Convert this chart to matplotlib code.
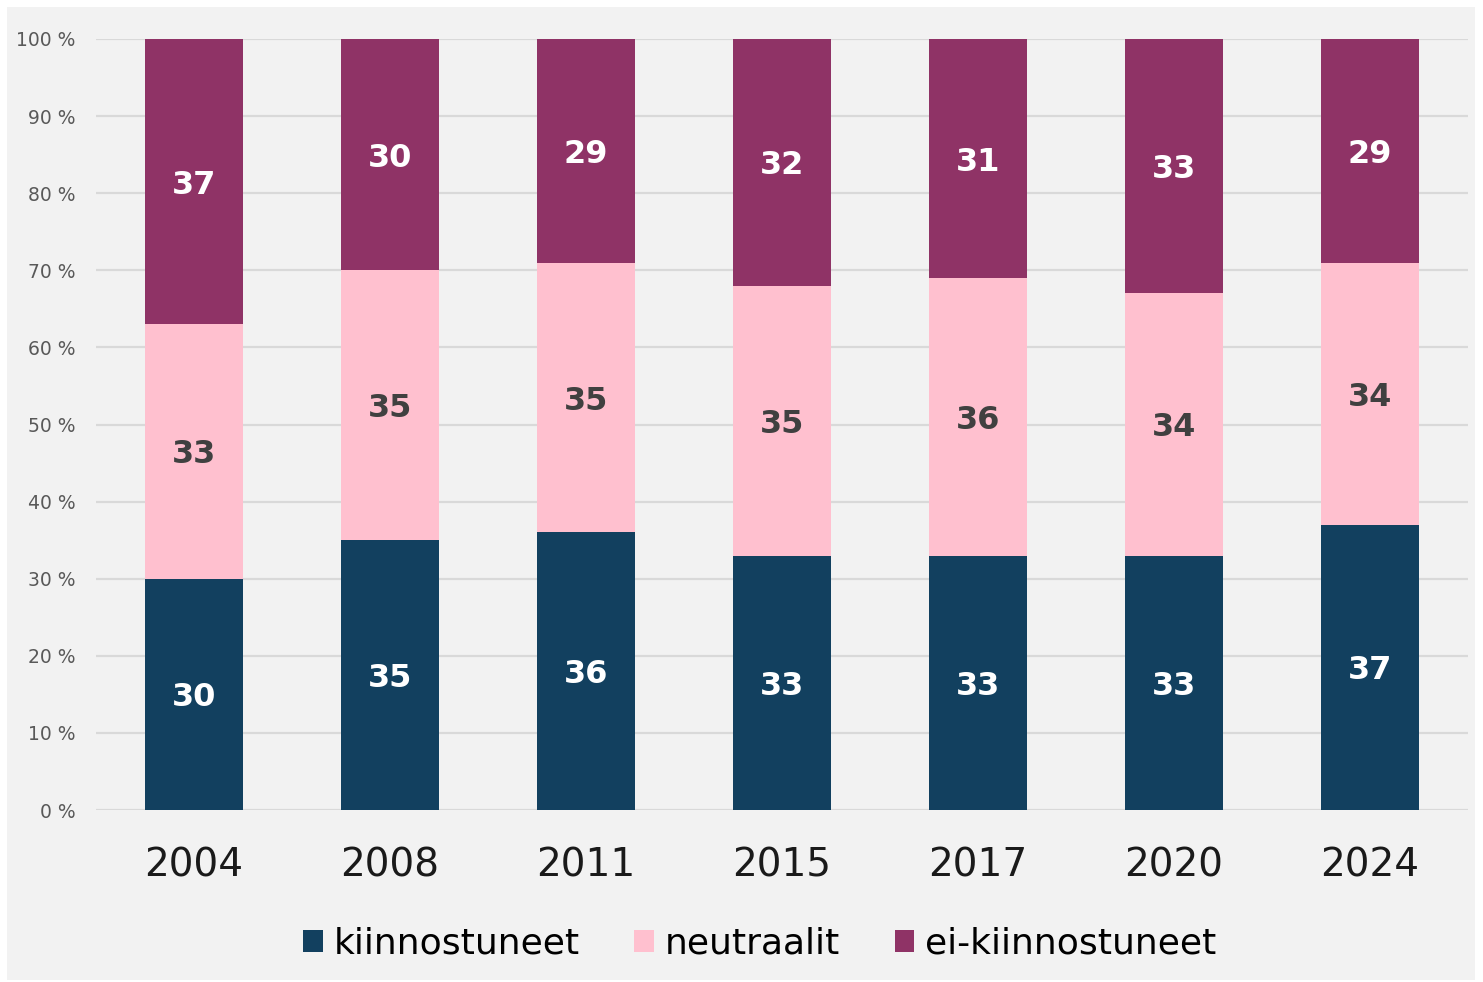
import matplotlib
matplotlib.use("Agg")
import matplotlib.pyplot as plt
from matplotlib.patches import Rectangle
import numpy as np

years = ["2004", "2008", "2011", "2015", "2017", "2020", "2024"]
kiinnostuneet = [30, 35, 36, 33, 33, 33, 37]
neutraalit = [33, 35, 35, 35, 36, 34, 34]
ei_kiinnostuneet = [37, 30, 29, 32, 31, 33, 29]
series_names = ["kiinnostuneet", "neutraalit", "ei-kiinnostuneet"]

colors = ["#12405F", "#FFC0CF", "#8F3366"]
label_colors = ["white", "#404040", "white"]

W, H = 1483, 982
fig = plt.figure(figsize=(W / 100, H / 100), dpi=100, facecolor="white")
bg = Rectangle((7 / W, 2 / H), 1468 / W, 973 / H,
               transform=fig.transFigure, facecolor="#F2F2F2",
               edgecolor="none", zorder=-10)
fig.add_artist(bg)

ax = fig.add_axes([96 / W, 172 / H, 1372 / W, 771 / H])
ax.set_facecolor("none")
ax.set_zorder(2)

x = np.arange(len(years))
data = [kiinnostuneet, neutraalit, ei_kiinnostuneet]
bottom = np.zeros(len(years))
handles = []
for vals, c, lc, name in zip(data, colors, label_colors, series_names):
    vals = np.array(vals, dtype=float)
    b = ax.bar(x, vals, 0.5, bottom=bottom, color=c, label=name, zorder=3)
    handles.append(b)
    for xi, v, bt in zip(x, vals, bottom):
        ax.text(xi, bt + v / 2, f"{int(v)}", ha="center", va="center_baseline",
                color=lc, fontsize=23, fontweight="bold", zorder=4)
    bottom += vals

ax.set_xlim(-0.5, 6.5)
ax.set_ylim(0, 100)
ax.set_yticks(np.arange(0, 101, 10))
ax.set_yticklabels([f"{v} %" for v in range(0, 101, 10)])
ax.set_xticks(x)
ax.set_xticklabels(years)
ax.grid(axis="y", color="#D9D9D9", linewidth=1.6, zorder=1)
ax.set_axisbelow(True)
for s in ax.spines.values():
    s.set_visible(False)
ax.tick_params(axis="y", length=0, pad=15, labelsize=13.5, labelcolor="#595959")
ax.tick_params(axis="x", length=0, pad=26, labelsize=28, labelcolor="#1a1a1a")

leg = fig.legend(handles=handles, labels=series_names, loc="center",
                 bbox_to_anchor=(760 / W, 38 / H), ncol=3, frameon=False,
                 fontsize=26, handlelength=0.55, handleheight=0.55,
                 handletextpad=0.3, columnspacing=1.5)
leg.set_zorder(3)

fig.savefig("out.png", dpi=100, facecolor="white")
